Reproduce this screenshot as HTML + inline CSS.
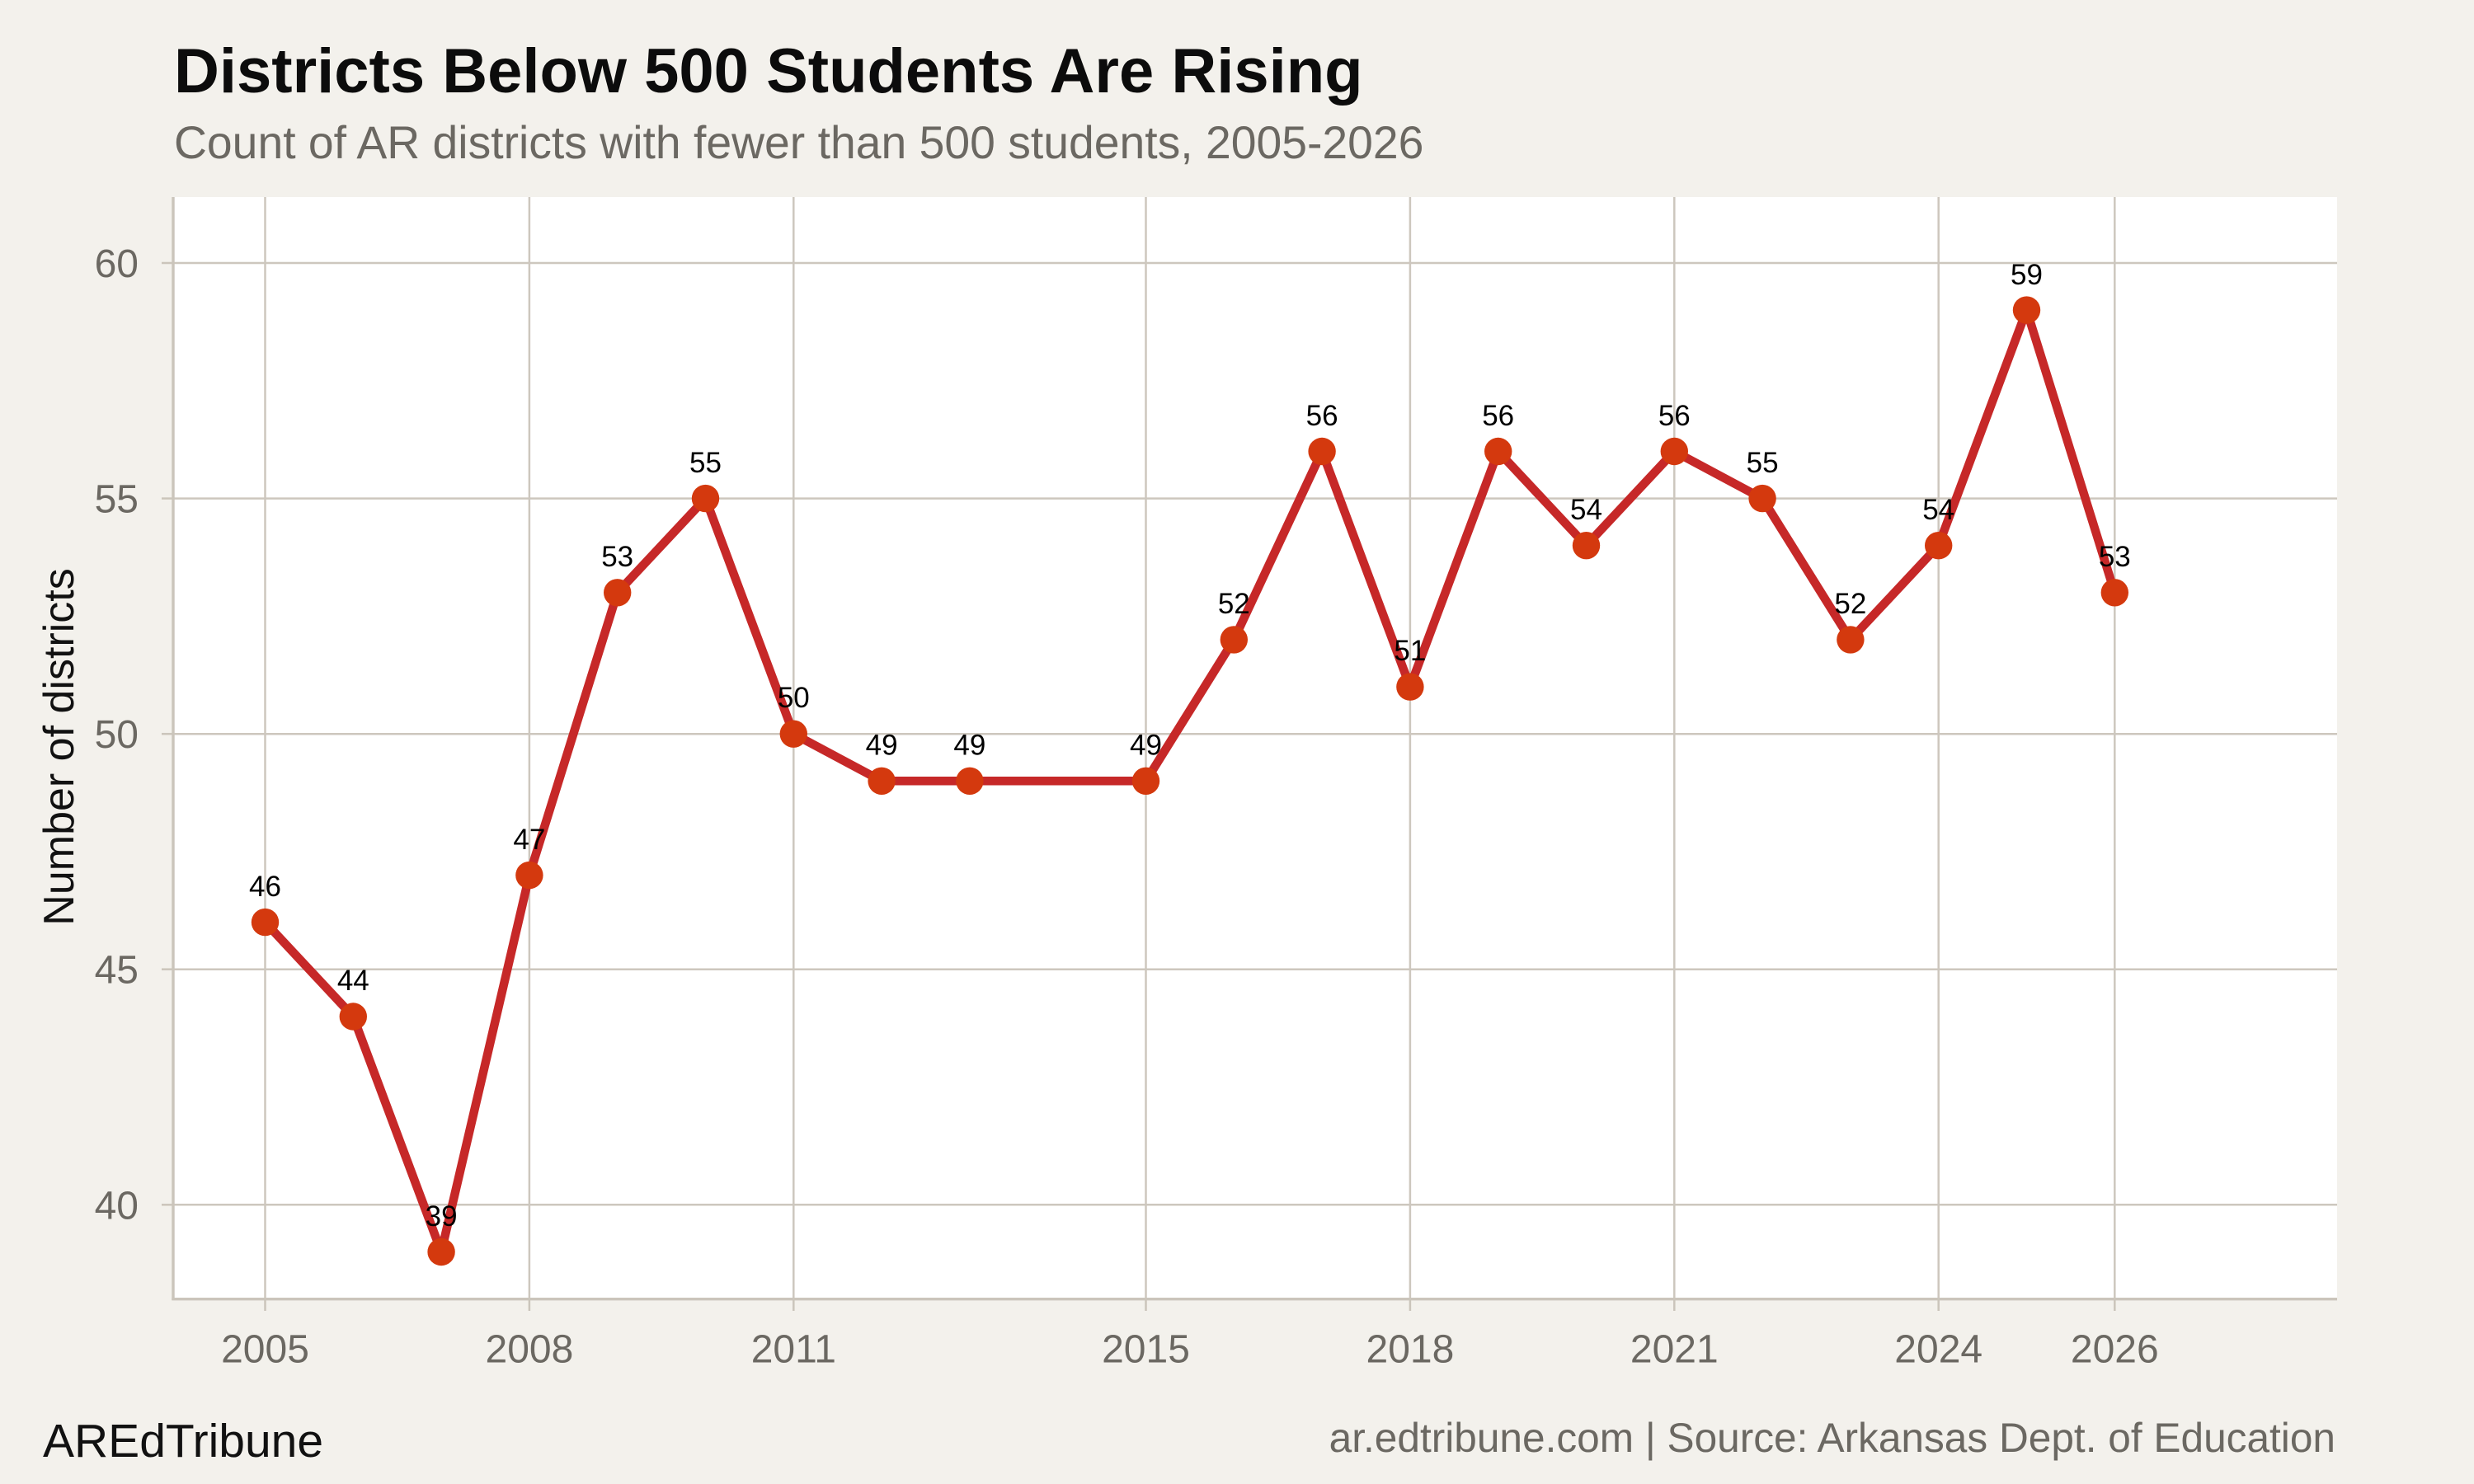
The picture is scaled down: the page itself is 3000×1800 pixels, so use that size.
<!DOCTYPE html>
<html>
<head>
<meta charset="utf-8">
<style>
html,body{margin:0;padding:0;background:#f3f1ec;}
svg{display:block;}
text{font-family:"Liberation Sans",Arial,Helvetica,sans-serif;}
</style>
</head>
<body>
<svg width="3000" height="1800" viewBox="0 0 3000 1800" xmlns="http://www.w3.org/2000/svg">
<rect x="0" y="0" width="3000" height="1800" fill="#f3f1ec"/>
<!-- title -->
<text x="211" y="112" font-size="76" font-weight="bold" fill="#0c0c0c">Districts Below 500 Students Are Rising</text>
<text x="211" y="192" font-size="55.3" fill="#6b6862">Count of AR districts with fewer than 500 students, 2005-2026</text>

<!-- panel -->
<rect x="210" y="239" width="2624" height="1336" fill="#ffffff"/>

<!-- grid horizontal -->
<g stroke="#cdc7be" stroke-width="2.5">
<line x1="210" x2="2834" y1="319" y2="319"/>
<line x1="210" x2="2834" y1="604.6" y2="604.6"/>
<line x1="210" x2="2834" y1="890.2" y2="890.2"/>
<line x1="210" x2="2834" y1="1175.7" y2="1175.7"/>
<line x1="210" x2="2834" y1="1461.3" y2="1461.3"/>
</g>
<!-- grid vertical -->
<g stroke="#cdc7be" stroke-width="2.5">
<line x1="321.5" x2="321.5" y1="239" y2="1575"/>
<line x1="641.9" x2="641.9" y1="239" y2="1575"/>
<line x1="962.3" x2="962.3" y1="239" y2="1575"/>
<line x1="1389.5" x2="1389.5" y1="239" y2="1575"/>
<line x1="1709.9" x2="1709.9" y1="239" y2="1575"/>
<line x1="2030.3" x2="2030.3" y1="239" y2="1575"/>
<line x1="2350.7" x2="2350.7" y1="239" y2="1575"/>
<line x1="2564.3" x2="2564.3" y1="239" y2="1575"/>
</g>

<!-- axes -->
<g stroke="#cbc5bb">
<line x1="210" x2="210" y1="239" y2="1577" stroke-width="3.4"/>
<line x1="208.3" x2="2834" y1="1575.7" y2="1575.7" stroke-width="3.4"/>
</g>
<!-- ticks -->
<g stroke="#cbc5bb" stroke-width="2.5">
<line x1="196" x2="210" y1="319" y2="319"/>
<line x1="196" x2="210" y1="604.6" y2="604.6"/>
<line x1="196" x2="210" y1="890.2" y2="890.2"/>
<line x1="196" x2="210" y1="1175.7" y2="1175.7"/>
<line x1="196" x2="210" y1="1461.3" y2="1461.3"/>
<line x1="321.5" x2="321.5" y1="1575" y2="1590"/>
<line x1="641.9" x2="641.9" y1="1575" y2="1590"/>
<line x1="962.3" x2="962.3" y1="1575" y2="1590"/>
<line x1="1389.5" x2="1389.5" y1="1575" y2="1590"/>
<line x1="1709.9" x2="1709.9" y1="1575" y2="1590"/>
<line x1="2030.3" x2="2030.3" y1="1575" y2="1590"/>
<line x1="2350.7" x2="2350.7" y1="1575" y2="1590"/>
<line x1="2564.3" x2="2564.3" y1="1575" y2="1590"/>
</g>

<!-- y tick labels -->
<g font-size="48" fill="#6b6862" text-anchor="end">
<text x="168" y="336">60</text>
<text x="168" y="621.6">55</text>
<text x="168" y="907.2">50</text>
<text x="168" y="1192.7">45</text>
<text x="168" y="1478.3">40</text>
</g>
<!-- x tick labels -->
<g font-size="48" fill="#6b6862" text-anchor="middle">
<text x="321.5" y="1652.5">2005</text>
<text x="641.9" y="1652.5">2008</text>
<text x="962.3" y="1652.5">2011</text>
<text x="1389.5" y="1652.5">2015</text>
<text x="1709.9" y="1652.5">2018</text>
<text x="2030.3" y="1652.5">2021</text>
<text x="2350.7" y="1652.5">2024</text>
<text x="2564.3" y="1652.5">2026</text>
</g>

<!-- y axis title -->
<text transform="translate(89,906) rotate(-90)" font-size="52" fill="#111111" text-anchor="middle">Number of districts</text>

<!-- series line -->
<polyline fill="none" stroke="#c62828" stroke-width="10.5" stroke-linejoin="round" stroke-linecap="round"
points="321.5,1118.6 428.3,1233.0 535.1,1518.5 641.9,1061.6 748.7,718.8 855.5,604.6 962.3,890.2 1069.1,947.3 1175.9,947.3 1389.5,947.3 1496.3,775.9 1603.1,547.5 1709.9,833.1 1816.7,547.5 1923.5,661.7 2030.3,547.5 2137.1,604.6 2243.9,775.9 2350.7,661.7 2457.5,376.1 2564.3,718.8"/>

<!-- points -->
<g fill="#d4390e">
<circle cx="321.5" cy="1118.6" r="16.7"/>
<circle cx="428.3" cy="1233.0" r="16.7"/>
<circle cx="535.1" cy="1518.5" r="16.7"/>
<circle cx="641.9" cy="1061.6" r="16.7"/>
<circle cx="748.7" cy="718.8" r="16.7"/>
<circle cx="855.5" cy="604.6" r="16.7"/>
<circle cx="962.3" cy="890.2" r="16.7"/>
<circle cx="1069.1" cy="947.3" r="16.7"/>
<circle cx="1175.9" cy="947.3" r="16.7"/>
<circle cx="1389.5" cy="947.3" r="16.7"/>
<circle cx="1496.3" cy="775.9" r="16.7"/>
<circle cx="1603.1" cy="547.5" r="16.7"/>
<circle cx="1709.9" cy="833.1" r="16.7"/>
<circle cx="1816.7" cy="547.5" r="16.7"/>
<circle cx="1923.5" cy="661.7" r="16.7"/>
<circle cx="2030.3" cy="547.5" r="16.7"/>
<circle cx="2137.1" cy="604.6" r="16.7"/>
<circle cx="2243.9" cy="775.9" r="16.7"/>
<circle cx="2350.7" cy="661.7" r="16.7"/>
<circle cx="2457.5" cy="376.1" r="16.7"/>
<circle cx="2564.3" cy="718.8" r="16.7"/>
</g>

<!-- data labels -->
<g font-size="35" fill="#000000" text-anchor="middle">
<text x="321.5" y="1087">46</text>
<text x="428.3" y="1201">44</text>
<text x="535.1" y="1487">39</text>
<text x="641.9" y="1030">47</text>
<text x="748.7" y="687">53</text>
<text x="855.5" y="573">55</text>
<text x="962.3" y="858">50</text>
<text x="1069.1" y="915.5">49</text>
<text x="1175.9" y="915.5">49</text>
<text x="1389.5" y="915.5">49</text>
<text x="1496.3" y="744">52</text>
<text x="1603.1" y="516">56</text>
<text x="1709.9" y="801">51</text>
<text x="1816.7" y="516">56</text>
<text x="1923.5" y="630">54</text>
<text x="2030.3" y="516">56</text>
<text x="2137.1" y="573">55</text>
<text x="2243.9" y="744">52</text>
<text x="2350.7" y="630">54</text>
<text x="2457.5" y="345">59</text>
<text x="2564.3" y="687">53</text>
</g>

<!-- captions -->
<text x="52" y="1767" font-size="57" fill="#111111">AREdTribune</text>
<text x="2832" y="1761" font-size="49.6" fill="#6b6862" text-anchor="end">ar.edtribune.com | Source: Arkansas Dept. of Education</text>
</svg>
</body>
</html>
